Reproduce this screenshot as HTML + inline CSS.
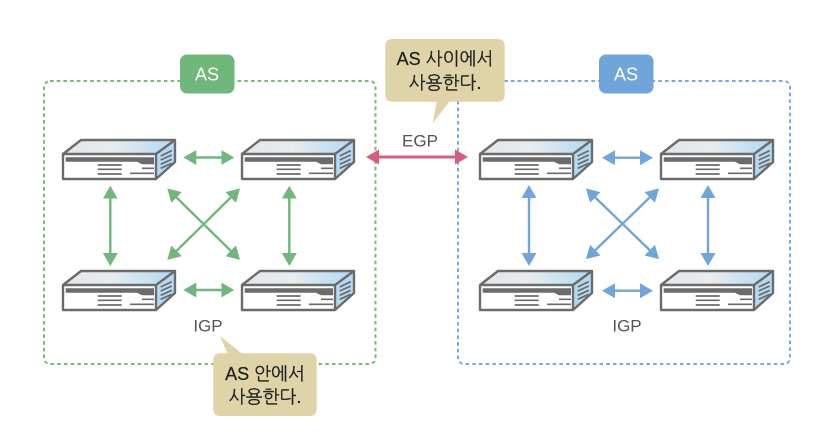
<!DOCTYPE html>
<html lang="ko">
<head>
<meta charset="utf-8">
<style>
html,body{margin:0;padding:0;background:#fff;width:824px;height:432px;overflow:hidden}
svg{display:block}
text{font-family:"Liberation Sans","NanumGothic","Noto Sans CJK KR",sans-serif;text-anchor:middle}
.c{font-size:18px;fill:#222;stroke:#222;stroke-width:.25px}
.l{font-size:17px;fill:#555}
.a{font-size:18px;fill:#fff}
</style>
</head>
<body>
<svg width="824" height="432" viewBox="0 0 824 432" xmlns="http://www.w3.org/2000/svg">
<defs>
<linearGradient id="t" x1="0" x2="1" y1="0" y2="0">
<stop offset="0" stop-color="#e2e6e8"/><stop offset=".45" stop-color="#e6ecef"/><stop offset="1" stop-color="#aed9f4"/>
</linearGradient>
<g id="r">
<path d="M0 14L18 0H112L93 14Z" fill="url(#t)"/>
<path d="M93 14L112 0V22L93 39Z" fill="#b4daf3"/>
<path d="M0 14H93V39H0Z" fill="#fff"/>
<path d="M0 14L18 0H112V22L93 39H0ZM0 14H93L112 0M93 14V39" fill="none" stroke="#6b6b6b" stroke-width="2.4" stroke-linejoin="round"/>
<path d="M2.7 17.3H91V24.3H79L74 21.7H2.7Z" fill="#6b6b6b"/>
<path d="M34.7 25H58.7M34.7 29.3H58.7M34.7 34H58.7M79 28.3H91M67 33.3H91" stroke="#6b6b6b" stroke-width="1.7" fill="none"/>
<path d="M97.7 16L108.7 10.7M97.7 20L108.7 15M97.7 24.3L108.7 19.3M97.7 28.3L108.7 23.3" stroke="#6b6b6b" stroke-width="1.7" fill="none"/>
</g>
<marker id="mg" markerUnits="userSpaceOnUse" markerWidth="15" markerHeight="16" refX="5" refY="7.5" orient="auto-start-reverse"><path d="M0 0L13 7.5L0 15Z" fill="#6fb77a"/></marker>
<marker id="mb" markerUnits="userSpaceOnUse" markerWidth="15" markerHeight="16" refX="5" refY="7.5" orient="auto-start-reverse"><path d="M0 0L13 7.5L0 15Z" fill="#6fa5d9"/></marker>
<marker id="mp" markerUnits="userSpaceOnUse" markerWidth="15" markerHeight="16" refX="5" refY="7.5" orient="auto-start-reverse"><path d="M0 0L13 7.5L0 15Z" fill="#d95b80"/></marker>
</defs>

<rect x="44" y="81" width="331.5" height="283" rx="6" fill="none" stroke="#74bb80" stroke-width="2" stroke-dasharray="3.6 3.1"/>
<rect x="458" y="81" width="332" height="283" rx="6" fill="none" stroke="#74aade" stroke-width="2" stroke-dasharray="3.6 3.1"/>

<use href="#r" x="63" y="140"/>
<use href="#r" x="242" y="140"/>
<use href="#r" x="63" y="271"/>
<use href="#r" x="242" y="271"/>
<use href="#r" x="480" y="140"/>
<use href="#r" x="661" y="140"/>
<use href="#r" x="480" y="271"/>
<use href="#r" x="661" y="271"/>

<g stroke="#6fb77a" stroke-width="2.4" fill="none">
<line x1="191.3" y1="157.5" x2="226.3" y2="157.5" marker-start="url(#mg)" marker-end="url(#mg)"/>
<line x1="191.3" y1="290" x2="226.3" y2="290" marker-start="url(#mg)" marker-end="url(#mg)"/>
<line x1="110.3" y1="193.7" x2="110.3" y2="258" marker-start="url(#mg)" marker-end="url(#mg)"/>
<line x1="289.3" y1="193.7" x2="289.3" y2="258" marker-start="url(#mg)" marker-end="url(#mg)"/>
<line x1="173" y1="194" x2="234.3" y2="254.3" marker-start="url(#mg)" marker-end="url(#mg)"/>
<line x1="234.3" y1="194" x2="173" y2="254.3" marker-start="url(#mg)" marker-end="url(#mg)"/>
</g>
<g stroke="#6fa5d9" stroke-width="2.4" fill="none">
<line x1="610" y1="157.7" x2="645" y2="157.7" marker-start="url(#mb)" marker-end="url(#mb)"/>
<line x1="610" y1="290.7" x2="645" y2="290.7" marker-start="url(#mb)" marker-end="url(#mb)"/>
<line x1="529" y1="193" x2="529" y2="258" marker-start="url(#mb)" marker-end="url(#mb)"/>
<line x1="708" y1="193" x2="708" y2="258" marker-start="url(#mb)" marker-end="url(#mb)"/>
<line x1="591.7" y1="194" x2="653.3" y2="253.6" marker-start="url(#mb)" marker-end="url(#mb)"/>
<line x1="653.3" y1="194" x2="591.7" y2="253.6" marker-start="url(#mb)" marker-end="url(#mb)"/>
</g>
<line x1="374" y1="157" x2="460" y2="157" stroke="#d95b80" stroke-width="3" marker-start="url(#mp)" marker-end="url(#mp)"/>

<rect x="180" y="54.5" width="54.5" height="39" rx="7" fill="#6fb77a"/>
<text class="a" x="207" y="80.5">AS</text>
<rect x="599" y="54.5" width="54.5" height="39" rx="7" fill="#6fa5d9"/>
<text class="a" x="626" y="80.5">AS</text>

<path d="M392.5 39H497.5Q504.7 39 504.7 46V94.7Q504.7 101.7 497.5 101.7H449.3L432.7 123.3L436.7 101.7H392.5Q385.3 101.7 385.3 94.7V46Q385.3 39 392.5 39Z" fill="#ded4a7"/>
<text class="c" x="445" y="65">AS 사이에서</text>
<text class="c" x="445" y="89">사용한다.</text>

<path d="M220.5 353.3H227.3L220 336L241.7 353.3H309.5Q316.7 353.3 316.7 360.5V409Q316.7 416 309.5 416H220.5Q213.3 416 213.3 409V360.5Q213.3 353.3 220.5 353.3Z" fill="#ded4a7"/>
<text class="c" x="265" y="380">AS 안에서</text>
<text class="c" x="265" y="403">사용한다.</text>

<text class="l" x="420" y="146.7">EGP</text>
<text class="l" x="208" y="331.7">IGP</text>
<text class="l" x="627" y="331.7">IGP</text>
</svg>
</body>
</html>
